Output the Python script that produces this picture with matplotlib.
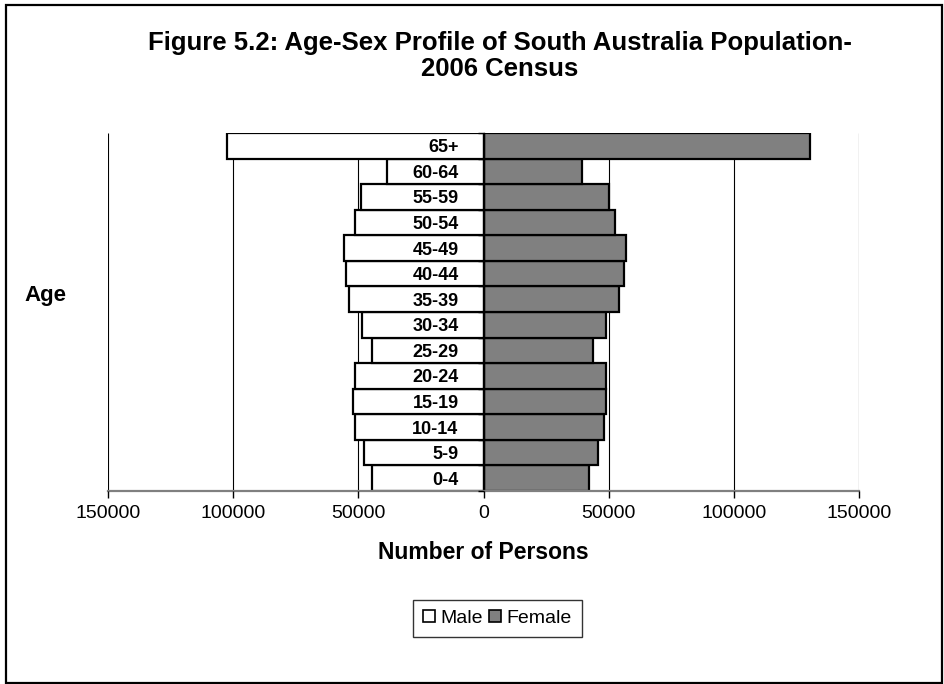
import matplotlib
matplotlib.use("Agg")
import matplotlib.pyplot as plt
from matplotlib.patches import Patch, Rectangle
import numpy as np

plt.rcParams['font.family'] = ['Liberation Sans', 'DejaVu Sans']

# Age groups from youngest (bottom) to oldest (top)
age_groups = ["0-4", "5-9", "10-14", "15-19", "20-24", "25-29", "30-34",
              "35-39", "40-44", "45-49", "50-54", "55-59", "60-64", "65+"]
male = [44500, 47700, 51300, 52000, 51200, 44600, 48400,
        53700, 55000, 55700, 51200, 49000, 38600, 102300]
female = [42100, 45800, 48000, 48900, 48900, 43600, 48900,
          54000, 56100, 56900, 52500, 50200, 39200, 130300]
x_ticks = [-150000, -100000, -50000, 0, 50000, 100000, 150000]

W, H = 944, 684
fig = plt.figure(figsize=(W / 100, H / 100), dpi=100)
fig.patch.set_facecolor("white")

# outer chart border
fig.patches.append(Rectangle((6 / W, 1 - 683 / H), (942 - 6) / W, (683 - 5) / H,
                             transform=fig.transFigure, fill=False,
                             edgecolor="black", linewidth=1.6))

ax = fig.add_axes([108 / W, 1 - 491 / H, (859 - 108) / W, (491 - 133) / H])
ax.set_axisbelow(False)

y = np.arange(len(age_groups))

# vertical gridlines behind the bars
ax.vlines(x_ticks, -0.5, len(age_groups) - 0.5, colors="black",
          linewidth=0.8, zorder=0.5)

ax.barh(y, [-v for v in male], height=1.0, color="white",
        edgecolor="black", linewidth=1.6, zorder=2)
ax.barh(y, female, height=1.0, color="#808080",
        edgecolor="black", linewidth=1.6, zorder=2)

ax.set_xlim(-150000, 150000)
ax.set_ylim(-0.5, len(age_groups) - 0.5)

for s in ["top", "right"]:
    ax.spines[s].set_visible(False)
ax.spines["left"].set_position(("data", 0))
ax.spines["left"].set_linewidth(1.0)
ax.spines["bottom"].set_color("#808080")
ax.spines["bottom"].set_linewidth(1.6)

ax.set_xticks(x_ticks)
ax.set_xticklabels([str(abs(t)) for t in x_ticks], fontsize=14)
ax.tick_params(axis="x", direction="out", length=5, width=1.0,
               color="black", pad=5)

ax.set_yticks(y)
ax.set_yticklabels(age_groups, fontsize=13, fontweight="bold")
ax.tick_params(axis="y", which="major", length=0, pad=18)
ax.set_yticks(np.arange(len(age_groups) + 1) - 0.5, minor=True)
ax.tick_params(axis="y", which="minor", length=4, width=1.0, direction="out")

ax.set_xlabel("Number of Persons", fontsize=16.5, fontweight="bold",
              labelpad=14)

fig.text(45 / W, 1 - 295 / H, "Age", fontsize=16, fontweight="bold",
         ha="center", va="center")

fig.text(500 / W, 1 - 56 / H,
         "Figure 5.2: Age-Sex Profile of South Australia Population-\n2006 Census",
         fontsize=18.5, fontweight="bold", ha="center", va="center",
         linespacing=1.12)

handles = [Patch(facecolor="white", edgecolor="black", linewidth=1.2),
           Patch(facecolor="#808080", edgecolor="black", linewidth=1.2)]
leg = fig.legend(handles, ["Male", "Female"], loc="center",
                 bbox_to_anchor=(497.5 / W, 1 - 618.5 / H), ncol=2,
                 fontsize=14, frameon=True, fancybox=False, shadow=False,
                 handlelength=0.6, handleheight=0.6, handletextpad=0.3,
                 columnspacing=0.3, borderpad=0.5, borderaxespad=0)
leg.get_frame().set_edgecolor("black")
leg.get_frame().set_linewidth(1.0)

fig.savefig("out.png", dpi=100, facecolor="white")
